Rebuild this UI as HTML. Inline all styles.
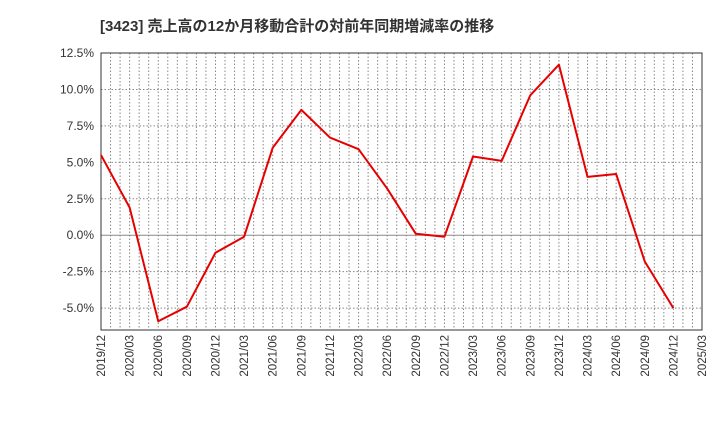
<!DOCTYPE html>
<html><head><meta charset="utf-8">
<style>
body{margin:0;background:#fff;width:720px;height:440px;overflow:hidden}
text{font-family:"Liberation Sans","Noto Sans CJK JP",sans-serif}
</style></head><body>
<svg id="chart" width="720" height="440" xmlns="http://www.w3.org/2000/svg">
<text x="100" y="31" font-size="15" font-weight="bold" fill="#333">[3423]  売上高の12か月移動合計の対前年同期増減率の推移</text>
<g id="grid"></g><g id="axes"></g><g id="series"></g>
</svg>
<script>
const categories=["2019/12","2020/03","2020/06","2020/09","2020/12","2021/03","2021/06","2021/09","2021/12","2022/03","2022/06","2022/09","2022/12","2023/03","2023/06","2023/09","2023/12","2024/03","2024/06","2024/09","2024/12","2025/03"];
const values=[5.5,1.9,-5.9,-4.9,-1.2,-0.1,6.0,8.6,6.7,5.9,3.2,0.1,-0.1,5.4,5.1,9.6,11.7,4.0,4.2,-1.8,-5.0];
const yTicks=[12.5,10.0,7.5,5.0,2.5,0.0,-2.5,-5.0];
const ns="http://www.w3.org/2000/svg";
const L=101,R=702,T=53,B=330,yMax=12.5,yMin=-6.5;
const x=i=>L+(R-L)*i/(categories.length-1);
const y=v=>T+(yMax-v)/(yMax-yMin)*(B-T);
function mk(tag,attrs,parent){const e=document.createElementNS(ns,tag);for(const k in attrs)e.setAttribute(k,attrs[k]);parent.appendChild(e);return e;}
const grid=document.getElementById('grid'),axes=document.getElementById('axes'),series=document.getElementById('series');
const nMonths=(categories.length-1)*3;
for(let m=1;m<nMonths;m++){const xx=L+(R-L)*m/nMonths;
const g=mk('line',{x1:xx,x2:xx,y1:T,y2:B,stroke:'#888','stroke-width':1,'stroke-dasharray':'1.5,2'},grid);
}
yTicks.forEach(t=>{const yy=y(t);
const g=mk('line',{x1:L,x2:R,y1:yy,y2:yy,stroke:t===0?'#888':'#888','stroke-width':1,'stroke-dasharray':t===0?'none':'1.5,2'},grid);

const tx=mk('text',{x:L-7,y:yy+4,'font-size':12,'text-anchor':'end',fill:'#333'},axes);tx.textContent=t.toFixed(1)+'%';
});
const fr=mk('rect',{x:L,y:T,width:R-L,height:B-T,fill:'none',stroke:'#333','stroke-width':1},axes);

categories.forEach((c,i)=>{const xx=x(i);
const tx=mk('text',{x:xx+4,y:B+5,'font-size':11.5,'text-anchor':'end',fill:'#333',transform:`rotate(-90 ${xx+4} ${B+5})`},axes);tx.textContent=c;
});
const pl=mk('polyline',{points:values.map((v,i)=>x(i)+','+y(v)).join(' '),fill:'none',stroke:'#e60000','stroke-width':2,'stroke-linejoin':'round'},series);

</script>
</body></html>
